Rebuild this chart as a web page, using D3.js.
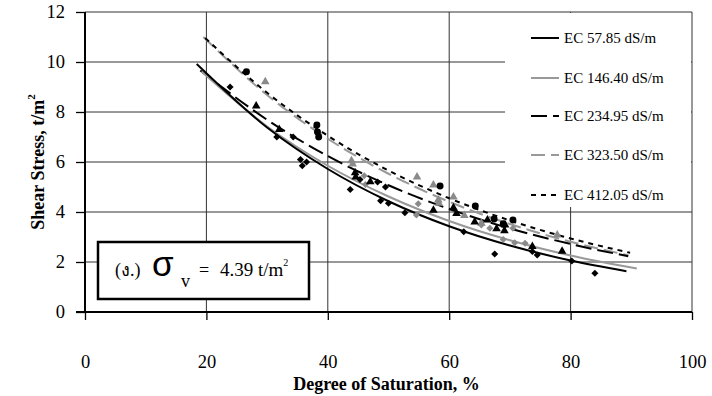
<!DOCTYPE html>
<html>
<head>
<meta charset="utf-8">
<script src="https://cdn.jsdelivr.net/npm/d3@7"></script>
<style>
    body { margin: 0; background: #fff; }
    svg { display: block; }
    svg text { font-family: "Liberation Serif", "Tinos", "Times New Roman", "DejaVu Serif", serif; fill: #000; }
    .axis-title { font-size: 18px; font-weight: bold; }
    .legend-label { font-size: 15px; }
</style>
</head>
<body>
<div id="chart"></div>
<script>
// series names (legend order)
const seriesNames = ["EC 57.85 dS/m", "EC 146.40 dS/m", "EC 234.95 dS/m", "EC 323.50 dS/m", "EC 412.05 dS/m"];

// trend lines [degree of saturation, shear stress]
const trend5785 = [[18.4, 9.92], [30, 7.38], [40, 5.72], [50, 4.43], [60, 3.43], [70, 2.66], [80, 2.06], [89.2, 1.63]];
const trend14640 = [[19.2, 9.62], [30, 7.42], [40, 5.85], [50, 4.62], [60, 3.64], [70, 2.87], [80, 2.26], [90.9, 1.74]];
const trend23495 = [[19, 9.66], [30, 7.69], [40, 6.24], [50, 5.07], [60, 4.12], [70, 3.34], [80, 2.72], [89.5, 2.23]];
const trend32350 = [[19.5, 11.0], [30, 8.68], [40, 6.93], [50, 5.53], [60, 4.41], [70, 3.52], [80, 2.81], [89.5, 2.27]];
const trend41205 = [[19.8, 10.96], [30, 8.77], [40, 7.05], [50, 5.66], [60, 4.55], [70, 3.66], [80, 2.94], [89.8, 2.37]];

// measured points
const pts5785 = [[23.9, 9.0], [31.6, 7.0], [34.3, 7.0], [35.5, 6.1], [36.5, 6.0], [35.8, 5.85], [43.7, 4.9],
    [45.3, 5.3], [48.2, 5.2], [49.5, 5.0], [48.7, 4.45], [50.0, 4.35], [52.7, 3.97], [62.4, 3.21],
    [67.5, 2.32], [73.7, 2.42], [74.5, 2.28], [80.2, 2.04], [84.0, 1.55]];
const pts14640 = [[46.0, 5.45], [46.2, 5.1], [54.9, 4.33], [54.6, 3.88], [58.2, 4.42], [65.3, 3.48],
    [66.7, 3.35], [68.9, 2.9], [70.5, 3.35], [70.8, 2.77], [72.5, 2.75]];
const pts23495 = [[28.2, 8.24], [32.0, 7.3], [44.5, 5.57], [44.6, 5.4], [47.0, 5.21], [57.4, 4.07], [60.7, 4.17],
    [61.2, 3.94], [64.2, 3.6], [66.3, 3.68], [67.8, 3.33], [69.1, 3.25], [69.2, 3.48], [73.7, 2.62], [78.6, 2.43]];
const pts32350 = [[29.7, 9.21], [43.9, 6.05], [44.1, 5.92], [54.7, 5.4], [57.4, 5.08], [58.2, 4.48], [58.3, 4.35],
    [60.7, 4.6], [62.5, 3.86], [65.3, 3.55], [77.8, 3.08]];
const pts41205 = [[26.6, 9.61], [38.2, 7.48], [38.3, 7.2], [38.5, 7.0], [58.5, 5.04], [64.3, 4.24],
    [67.4, 3.72], [68.9, 3.53], [70.5, 3.68]];

const xTicks = [0, 20, 40, 60, 80, 100];
const yTicks = [0, 2, 4, 6, 8, 10, 12];

const buildChart = element => {
    const width = 712;
    const height = 396;
    const left = 85, right = 692, top = 12, bottom = 312;
    const gray = "#999";
    const grayMark = "#8a8a8a";
    const serif = "'Liberation Serif', Tinos, 'Times New Roman', 'DejaVu Serif', serif";

    const svg = d3.select(element)
        .append("svg")
        .attr("width", width)
        .attr("height", height);

    const x = d3.scaleLinear().domain([0, 100]).range([left, right]);
    const y = d3.scaleLinear().domain([0, 12]).range([bottom, top]);

    // grid
    svg.append("g").selectAll("line")
        .data(yTicks.filter(d => d > 0))
        .join("line")
        .attr("x1", left).attr("x2", right)
        .attr("y1", d => y(d)).attr("y2", d => y(d))
        .attr("stroke", "#333").attr("stroke-width", 1);

    svg.append("g").selectAll("line")
        .data(xTicks.filter(d => d > 0))
        .join("line")
        .attr("x1", d => x(d)).attr("x2", d => x(d))
        .attr("y1", top).attr("y2", bottom)
        .attr("stroke", "#333").attr("stroke-width", 1);

    // legend background hides the grid
    svg.append("rect")
        .attr("x", 505).attr("y", top + 1)
        .attr("width", right - 505 - 1).attr("height", 194)
        .attr("fill", "#fff");

    // axes
    const xAxis = svg.append("g")
        .attr("transform", `translate(0,${bottom})`)
        .call(d3.axisBottom(x).tickValues(xTicks).tickSize(8).tickPadding(35));
    const yAxis = svg.append("g")
        .attr("transform", `translate(${left},0)`)
        .call(d3.axisLeft(y).tickValues(yTicks).tickSize(9).tickPadding(11));

    [xAxis, yAxis].forEach(g => {
        g.attr("font-family", serif).attr("font-size", 18.5);
        g.select(".domain").remove();
        g.selectAll(".tick line").attr("stroke", "#000").attr("stroke-width", 1.3);
        g.selectAll(".tick text").attr("fill", "#000");
    });

    svg.append("line")
        .attr("x1", left).attr("x2", left).attr("y1", top).attr("y2", bottom)
        .attr("stroke", "#000").attr("stroke-width", 2);
    svg.append("line")
        .attr("x1", left - 9).attr("x2", right).attr("y1", bottom).attr("y2", bottom)
        .attr("stroke", "#000").attr("stroke-width", 2);

    // axis titles
    svg.append("text")
        .attr("class", "axis-title")
        .attr("x", (left + right) / 2 - 2)
        .attr("y", 390)
        .attr("text-anchor", "middle")
        .text("Degree of Saturation, %");

    const yTitle = svg.append("text")
        .attr("class", "axis-title")
        .attr("transform", `translate(44,${(top + bottom) / 2}) rotate(-90)`)
        .attr("text-anchor", "middle");
    yTitle.append("tspan").text("Shear Stress, t/m");
    yTitle.append("tspan").attr("dy", -9).style("font-size", "11px").text("2");

    // trend lines
    const styles = [
        { color: "#000", dash: null, width: 2 },
        { color: gray, dash: null, width: 2 },
        { color: "#000", dash: "16,6", width: 2 },
        { color: gray, dash: "14,6", width: 2 },
        { color: "#000", dash: "5,5", width: 2 }
    ];
    const trends = [trend5785, trend14640, trend23495, trend32350, trend41205];

    const line = d3.line()
        .x(d => x(d[0]))
        .y(d => y(d[1]))
        .curve(d3.curveMonotoneX);

    [3, 2, 4, 1, 0].forEach(i => {
        svg.append("path")
            .attr("d", line(trends[i]))
            .attr("fill", "none")
            .attr("stroke", styles[i].color)
            .attr("stroke-width", styles[i].width)
            .attr("stroke-dasharray", styles[i].dash);
    });

    // markers
    const diamond = d3.symbol().type(d3.symbolSquare).size(25);
    const triangle = d3.symbol().type(d3.symbolTriangle).size(32);
    const circle = d3.symbol().type(d3.symbolCircle).size(38);

    const addMarkers = (pts, sym, color, rotate) => {
        svg.append("g").selectAll("path")
            .data(pts)
            .join("path")
            .attr("d", sym)
            .attr("transform", d => `translate(${x(d[0])},${y(d[1])})` + (rotate ? " rotate(45)" : ""))
            .attr("fill", color);
    };

    addMarkers(pts14640, diamond, grayMark, true);
    addMarkers(pts32350, triangle, grayMark, false);
    addMarkers(pts5785, diamond, "#000", true);
    addMarkers(pts23495, triangle, "#000", false);
    addMarkers(pts41205, circle, "#000", false);

    // legend
    const legendRows = [38, 78, 116, 155, 195];
    seriesNames.forEach((name, i) => {
        svg.append("line")
            .attr("x1", 531).attr("x2", 559)
            .attr("y1", legendRows[i]).attr("y2", legendRows[i])
            .attr("stroke", styles[i].color)
            .attr("stroke-width", 2)
            .attr("stroke-dasharray", styles[i].dash);
        svg.append("text")
            .attr("class", "legend-label")
            .attr("x", 564)
            .attr("y", legendRows[i] + 5)
            .text(name);
    });

    // annotation box
    svg.append("rect")
        .attr("x", 98).attr("y", 242)
        .attr("width", 211).attr("height", 57)
        .attr("fill", "#fff")
        .attr("stroke", "#000")
        .attr("stroke-width", 2.5);

    svg.append("text")
        .attr("x", 115).attr("y", 276)
        .style("font-size", "18px")
        .text("(ง.)");
    svg.append("text")
        .attr("x", 152).attr("y", 276)
        .style("font-family", "'Liberation Sans', Arimo, 'DejaVu Sans', sans-serif")
        .style("font-size", "35px")
        .text("σ");
    svg.append("text")
        .attr("x", 181).attr("y", 287)
        .style("font-size", "18px")
        .text("v");
    svg.append("text")
        .attr("x", 199).attr("y", 276)
        .style("font-size", "18px")
        .text("=");
    const val = svg.append("text")
        .attr("x", 220).attr("y", 276)
        .style("font-size", "19px");
    val.append("tspan").text("4.39 t/m");
    val.append("tspan").attr("dy", -10).style("font-size", "10px").text("2");
};

buildChart(document.getElementById("chart"));
</script>
</body>
</html>
